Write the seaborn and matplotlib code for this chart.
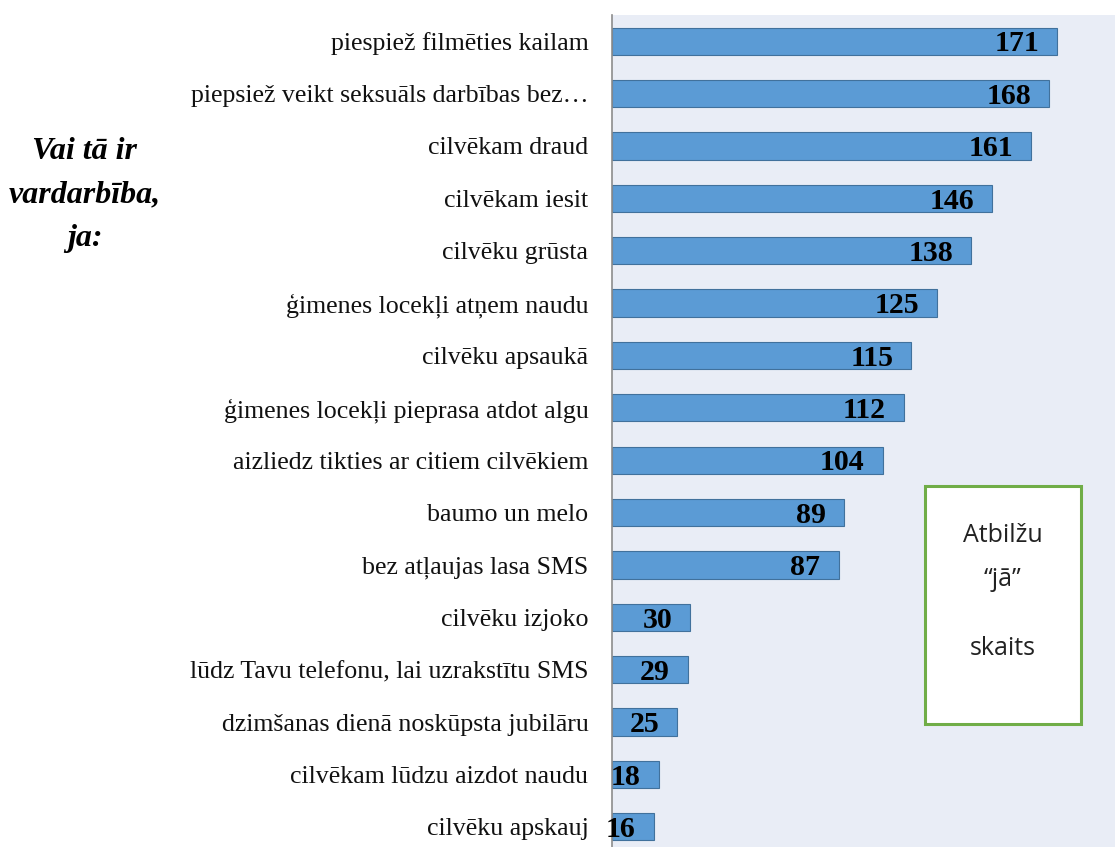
import matplotlib
matplotlib.use("Agg")
import matplotlib.pyplot as plt
import seaborn as sns
import pandas as pd
from matplotlib.patches import Rectangle

# Dati
categories = [
    "piespiež filmēties kailam",
    "piepsiež veikt seksuāls darbības bez…",
    "cilvēkam draud",
    "cilvēkam iesit",
    "cilvēku grūsta",
    "ģimenes locekļi atņem naudu",
    "cilvēku apsaukā",
    "ģimenes locekļi pieprasa atdot algu",
    "aizliedz tikties ar citiem cilvēkiem",
    "baumo un melo",
    "bez atļaujas lasa SMS",
    "cilvēku izjoko",
    "lūdz Tavu telefonu, lai uzrakstītu SMS",
    "dzimšanas dienā noskūpsta jubilāru",
    "cilvēkam lūdzu aizdot naudu",
    "cilvēku apskauj",
]
values = [171, 168, 161, 146, 138, 125, 115, 112, 104, 89, 87, 30, 29, 25, 18, 16]

side_title = "Vai tā ir\nvardarbība,\nja:"
box_lines = ["Atbilžu", "“jā”", "skaits"]

df = pd.DataFrame({"kategorija": categories, "skaits": values})

sns.set_style("white")
plt.rcParams["font.family"] = ["Liberation Serif", "DejaVu Serif"]

W, H = 1115, 847
fig = plt.figure(figsize=(W / 100, H / 100), dpi=100)
# asis: no x=612 līdz labajai malai, y no 15 px (apakšā nedaudz nogriezta)
ax = fig.add_axes([612 / W, -6 / H, (W - 612) / W, (853 - 15) / H])
ax.set_facecolor("#E9EDF6")

sns.barplot(data=df, x="skaits", y="kategorija", orient="h", ax=ax,
            color="#5B9BD5", saturation=1, width=0.52,
            edgecolor="#41719C", linewidth=0.8)

ax.set_xlim(0, 193.2)
ax.set_ylim(len(categories) - 0.5, -0.5)
ax.set_xlabel("")
ax.set_ylabel("")
ax.set_xticks([])
ax.tick_params(axis="y", length=0, pad=17, labelsize=18.6)
for lbl in ax.get_yticklabels():
    lbl.set_color("#111111")

for s in ["top", "right", "bottom"]:
    ax.spines[s].set_visible(False)
ax.spines["left"].set_color("#8C8C8C")
ax.spines["left"].set_linewidth(1.2)

# vērtību uzraksti joslu galos
for i, v in enumerate(values):
    ax.annotate(str(v), xy=(v, i), xytext=(-13, -2), textcoords="offset points",
                ha="right", va="center", fontsize=21.5, fontweight="bold",
                color="black")

# kreisās puses virsraksts
fig.text(85 / W, 1 - 195 / H, side_title, ha="center", va="center",
         fontsize=23, fontweight="bold", fontstyle="italic",
         linespacing=1.65, color="black")

# zaļais rāmis
fig.patches.append(Rectangle((925 / W, 1 - 724 / H), (1081 - 925) / W, (724 - 486) / H,
                             transform=fig.transFigure, facecolor="white",
                             edgecolor="#70AD47", linewidth=2.2, zorder=5))
for txt, y in zip(box_lines, [535, 580, 648]):
    fig.text(1003 / W, 1 - y / H, txt, ha="center", va="center", fontsize=18,
             family=["Open Sans", "DejaVu Sans"], color="#222222", zorder=6)

fig.savefig("out.png", dpi=100)
